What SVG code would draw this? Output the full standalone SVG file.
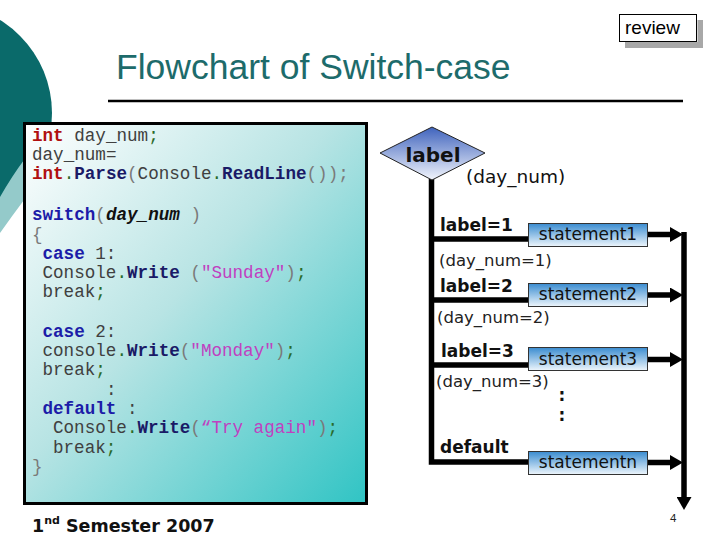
<svg xmlns="http://www.w3.org/2000/svg" width="720" height="540" viewBox="0 0 720 540">
<style>
.code{font-family:"Liberation Mono","Courier New",monospace;font-size:17.6px;fill:#404040}
.ty{fill:#b01010;font-weight:bold}
.kw{fill:#1c1ca8;font-weight:bold}
.fn{fill:#1a1a66;font-weight:bold}
.str{fill:#c040c0}
.p{fill:#7a7a7a}
.g{fill:#2a6a2a}
.lbl{font-family:"DejaVu Sans",Verdana,sans-serif;font-weight:bold;font-size:17px;fill:#111}
.cond{font-family:"DejaVu Sans",Verdana,sans-serif;font-size:16.5px;fill:#222}
.stmt{font-family:"DejaVu Sans",Verdana,sans-serif;font-size:17px;fill:#111;text-anchor:middle}
.box{fill:url(#sg);stroke:#333;stroke-width:1}
.wire{fill:none;stroke:#000;stroke-width:5.5}
</style>
<defs>
<linearGradient id="cg" x1="0" y1="0" x2="1" y2="1">
<stop offset="0" stop-color="#ffffff"/>
<stop offset="0.45" stop-color="#b8e4e4"/>
<stop offset="1" stop-color="#30c4c4"/>
</linearGradient>
<linearGradient id="sg" x1="0" y1="0" x2="0" y2="1">
<stop offset="0" stop-color="#3a8cd0"/>
<stop offset="1" stop-color="#eef6fc"/>
</linearGradient>
<linearGradient id="dg" x1="0" y1="0" x2="0" y2="1">
<stop offset="0" stop-color="#3f63bd"/>
<stop offset="1" stop-color="#f2f5fc"/>
</linearGradient>
<marker id="ah" markerUnits="userSpaceOnUse" markerWidth="13" markerHeight="15" viewBox="0 0 13 15" refX="1" refY="7.5" orient="auto">
<path d="M0,0 L13,7.5 L0,15 Z" fill="#000"/>
</marker>
</defs>
<rect width="720" height="540" fill="#fff"/>
<g id="decor">
<circle cx="-57" cy="113" r="109" fill="#0a6a6a"/>
<path d="M0,197 Q12,176 24,160 L24,200 Q12,216 0,233 Z" fill="#94caca"/>
</g>
<g id="review">
<path d="M697.5,20 H703 V48 H625 V42 H697.5 Z" fill="#a8a8a8"/>
<rect x="619.5" y="14.5" width="77" height="27" fill="#fff" stroke="#000" stroke-width="1"/>
<text x="625" y="34" font-family="Liberation Sans,Arial,sans-serif" font-size="19" fill="#000">review</text>
</g>
<g id="title">
<text x="116" y="79" font-family="Liberation Sans,Arial,sans-serif" font-size="35.5" fill="#1d6b6b">Flowchart of Switch-case</text>
<line x1="108" y1="101" x2="683" y2="101" stroke="#000" stroke-width="2.5"/>
</g>
<g id="code">
<rect x="24.5" y="123.5" width="342" height="380" fill="url(#cg)" stroke="#000" stroke-width="3"/>
<text class="code" x="32" y="141"><tspan class="ty">int</tspan> day_num<tspan class="g">;</tspan></text>
<text class="code" x="32" y="160">day_num=</text>
<text class="code" x="32" y="179"><tspan class="ty">int</tspan><tspan class="g">.</tspan><tspan class="fn">Parse</tspan><tspan class="p">(</tspan>Console<tspan class="g">.</tspan><tspan class="fn">ReadLine</tspan><tspan class="p">());</tspan></text>
<text class="code" x="32" y="220"><tspan class="kw">switch</tspan><tspan class="p">(</tspan><tspan font-weight="bold" font-style="italic" fill="#111">day_num</tspan><tspan class="p"> )</tspan></text>
<text class="code" x="32" y="240"><tspan class="p">{</tspan></text>
<text class="code" x="42.5" y="259"><tspan class="kw">case</tspan> 1:</text>
<text class="code" x="42.5" y="278">Console<tspan class="g">.</tspan><tspan class="fn">Write</tspan> <tspan class="p">(</tspan><tspan class="str">"Sunday"</tspan><tspan class="p">)</tspan><tspan class="g">;</tspan></text>
<text class="code" x="42.5" y="297">break<tspan class="g">;</tspan></text>
<text class="code" x="42.5" y="337"><tspan class="kw">case</tspan> 2:</text>
<text class="code" x="42.5" y="356">console<tspan class="g">.</tspan><tspan class="fn">Write</tspan><tspan class="p">(</tspan><tspan class="str">"Monday"</tspan><tspan class="p">)</tspan><tspan class="g">;</tspan></text>
<text class="code" x="42.5" y="375">break<tspan class="g">;</tspan></text>
<text class="code" x="106" y="395">:</text>
<text class="code" x="42.5" y="414"><tspan class="kw">default</tspan> :</text>
<text class="code" x="53" y="433">Console<tspan class="g">.</tspan><tspan class="fn">Write</tspan><tspan class="p">(</tspan><tspan class="str">“Try again"</tspan><tspan class="p">)</tspan><tspan class="g">;</tspan></text>
<text class="code" x="53" y="453">break<tspan class="g">;</tspan></text>
<text class="code" x="32" y="472"><tspan class="p">}</tspan></text>
</g>
<g id="footer">
<text x="32" y="532" font-family="DejaVu Sans,Verdana,sans-serif" font-weight="bold" font-size="17.5" fill="#111">1<tspan font-size="11" dy="-8">nd</tspan><tspan dy="8"> Semester 2007</tspan></text>
<text x="670" y="522" font-family="Liberation Sans,Arial,sans-serif" font-size="11.5" fill="#222">4</text>
</g>
<g id="connectors">
<path class="wire" d="M431.5,179 V462 H528"/>
<path class="wire" d="M431.5,239 H528"/>
<path class="wire" d="M431.5,300 H528"/>
<path class="wire" d="M431.5,365 H528"/>
<path class="wire" d="M648,234.5 H671" marker-end="url(#ah)"/>
<path class="wire" d="M648,295 H671" marker-end="url(#ah)"/>
<path class="wire" d="M648,359.5 H671" marker-end="url(#ah)"/>
<path class="wire" d="M648,462.5 H671" marker-end="url(#ah)"/>
<path class="wire" d="M684,232 V498" marker-end="url(#ah)"/>
</g>
<g id="decision">
<path d="M380,153 L432,127 L485,153 L432,180 Z" fill="url(#dg)" stroke="#222" stroke-width="1"/>
<text x="433" y="162" font-family="DejaVu Sans,Verdana,sans-serif" font-weight="bold" font-size="20" fill="#111" text-anchor="middle">label</text>
<text x="466" y="183" font-family="DejaVu Sans,Verdana,sans-serif" font-size="18.5" fill="#111">(day_num)</text>
</g>
<g id="case1">
<text class="lbl" x="440" y="231">label=1</text>
<text class="cond" x="439" y="266">(day_num=1)</text>
<rect class="box" x="528.5" y="223.5" width="119" height="23"/>
<text class="stmt" x="588" y="240">statement1</text>
</g>
<g id="case2">
<text class="lbl" x="440" y="292">label=2</text>
<text class="cond" x="437" y="323">(day_num=2)</text>
<rect class="box" x="528.5" y="283.5" width="119" height="23"/>
<text class="stmt" x="588" y="300">statement2</text>
</g>
<g id="case3">
<text class="lbl" x="441" y="357">label=3</text>
<text class="cond" x="436" y="387">(day_num=3)</text>
<rect class="box" x="528.5" y="347.5" width="119" height="23"/>
<text class="stmt" x="588" y="365">statement3</text>
<text x="562" y="401" font-family="DejaVu Sans,Verdana,sans-serif" font-weight="bold" font-size="17" fill="#111" text-anchor="middle">:</text>
<text x="562" y="421" font-family="DejaVu Sans,Verdana,sans-serif" font-weight="bold" font-size="17" fill="#111" text-anchor="middle">:</text>
</g>
<g id="casedefault">
<text class="lbl" x="440" y="453">default</text>
<rect class="box" x="528.5" y="451.5" width="119" height="23"/>
<text class="stmt" x="588" y="468">statementn</text>
</g>
</svg>
